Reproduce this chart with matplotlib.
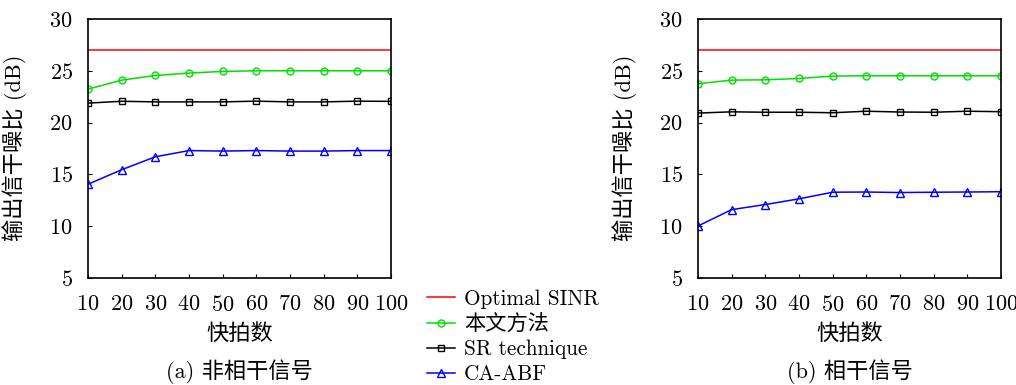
import numpy as np
import matplotlib
matplotlib.use("Agg")
import matplotlib.pyplot as plt

plt.rcParams['font.family'] = ['cmr10', 'Noto Sans CJK SC']
plt.rcParams['axes.formatter.use_mathtext'] = True
plt.rcParams['mathtext.fontset'] = 'cm'

snapshots = [10, 20, 30, 40, 50, 60, 70, 80, 90, 100]

# (a) incoherent signals
optimal_a = [27.0] * 10
ours_a = [23.23, 24.1, 24.55, 24.78, 24.94, 25.0, 25.0, 25.0, 25.0, 25.0]
sr_a = [21.88, 22.06, 22.0, 22.0, 22.0, 22.07, 22.0, 22.0, 22.07, 22.05]
caabf_a = [14.05, 15.45, 16.7, 17.3, 17.25, 17.3, 17.25, 17.25, 17.3, 17.3]

# (b) coherent signals
optimal_b = [27.0] * 10
ours_b = [23.75, 24.1, 24.13, 24.26, 24.49, 24.52, 24.52, 24.52, 24.52, 24.52]
sr_b = [20.92, 21.04, 21.0, 21.0, 20.95, 21.1, 21.02, 21.0, 21.1, 21.05]
caabf_b = [10.02, 11.6, 12.09, 12.64, 13.28, 13.3, 13.25, 13.28, 13.3, 13.33]

labels = ['Optimal SINR', '本文方法', 'SR technique', 'CA-ABF']
captions = ['(a) 非相干信号', '(b) 相干信号']

W, H = 1016, 385
fig = plt.figure(figsize=(W / 100, H / 100), dpi=100)
ax_a = fig.add_axes([88 / W, 1 - 278 / H, 303 / W, 259 / H])
ax_b = fig.add_axes([698 / W, 1 - 278 / H, 303 / W, 259 / H])

fs = 16
handles = None
for ax, opt, ours, sr, ca, cap in [(ax_a, optimal_a, ours_a, sr_a, caabf_a, captions[0]),
                                   (ax_b, optimal_b, ours_b, sr_b, caabf_b, captions[1])]:
    h1, = ax.plot(snapshots, opt, color='#ff0000', lw=1.1)
    h2, = ax.plot(snapshots, ours, color='#00e000', lw=1.1, marker='o', ms=5,
                  mfc='none', mew=1.0)
    h3, = ax.plot(snapshots, sr, color='black', lw=1.1, marker='s', ms=4.5,
                  mfc='none', mew=1.0)
    h4, = ax.plot(snapshots, ca, color='#0000ff', lw=1.1, marker='^', ms=6,
                  mfc='none', mew=1.0)
    handles = [h1, h2, h3, h4]
    ax.set_xlim(10, 100)
    ax.set_ylim(5, 30)
    ax.set_xticks(snapshots)
    ax.set_yticks([5, 10, 15, 20, 25, 30])
    ax.tick_params(axis='x', direction='in', length=3, labelsize=fs, pad=12, top=False)
    ax.tick_params(axis='y', direction='in', length=3, labelsize=fs, pad=11, right=False)
    for s in ax.spines.values():
        s.set_linewidth(1.2)
    x0, x1 = ax.get_position().x0, ax.get_position().x1
    xc = (x0 + x1) / 2
    fig.text(xc, 1 - 333 / H, '快拍数', ha='center', va='center', fontsize=fs)
    fig.text(xc, 1 - 372 / H, cap, ha='center', va='center', fontsize=fs)
    fig.text(x0 - 73 / W, 1 - 148 / H, '输出信干噪比 (dB)', ha='center', va='center',
             rotation=90, fontsize=fs)

fig.legend(handles, labels, loc='upper left', bbox_to_anchor=(427 / W, 1 - 289 / H),
           frameon=False, fontsize=15.3, handlelength=1.3, handletextpad=0.45,
           labelspacing=0.26, borderaxespad=0, borderpad=0)

plt.savefig('out.png', dpi=100)
